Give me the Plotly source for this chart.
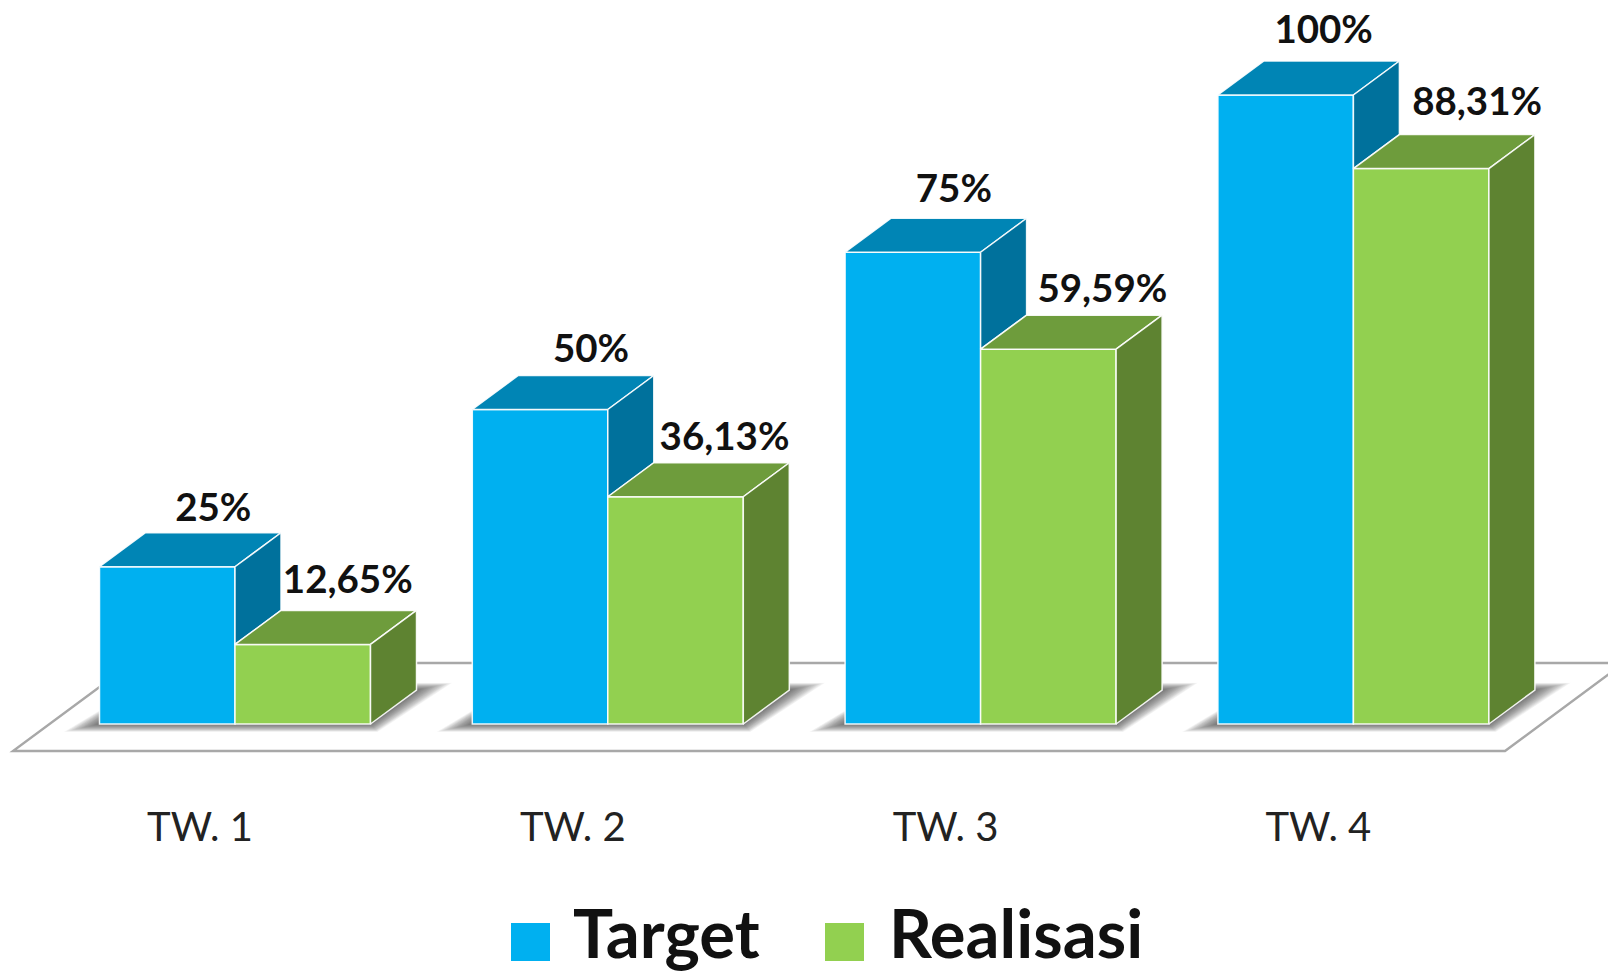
import plotly.graph_objects as go

categories = ["TW. 1", "TW. 2", "TW. 3", "TW. 4"]
target = [25, 50, 75, 100]
realisasi = [12.65, 36.13, 59.59, 88.31]
target_labels = ["25%", "50%", "75%", "100%"]
realisasi_labels = ["12,65%", "36,13%", "59,59%", "88,31%"]

target_nudge = [(0, 2), (5, 4), (-5, 7), (-8, 8)]
realisasi_nudge = [(-1, 8), (3, 3), (8, 4), (10, 10)]

W, H = 1608, 974
X_PER_CAT = 372.8      # px per category
Y_PER_PCT = 6.29       # px per percent
X0_PX, Y0_PX = 235, 724
BAR_W = 135.5 / X_PER_CAT
DX = 46 / X_PER_CAT    # oblique depth
DY = 34 / Y_PER_PCT

C_T = ("#00B0F0", "#0085B5", "#00719C")
C_R = ("#92D050", "#6E9C3C", "#5E8331")
EDGE = "rgba(255,255,255,0.9)"
FONT = "Lato"


def path(pts):
    return "M " + " L ".join(f"{x:.4f},{y:.4f}" for x, y in pts) + " Z"


def px_x(p):
    return p / X_PER_CAT


def px_y(p):
    return p / Y_PER_PCT


fig = go.Figure()
shapes = []

# floor
fl, fr = (13 - X0_PX) / X_PER_CAT, (1505 - X0_PX) / X_PER_CAT
fy0, fy1 = -27 / Y_PER_PCT, 61 / Y_PER_PCT
fdx = 119 / X_PER_CAT
shapes.append(dict(type="path", xref="x", yref="y", layer="below",
                   path=path([(fl, fy0), (fr, fy0), (fr + fdx, fy1), (fl + fdx, fy1)]),
                   fillcolor="white", line=dict(color="#A8A8A8", width=2.4)))

# soft shadows below each pair of columns
for i in range(len(categories)):
    L, R = i - BAR_W, i + BAR_W
    for t in range(36, 0, -1):
        shapes.append(dict(type="path", xref="x", yref="y", layer="below",
                           path=path([(L - px_x(t), -px_y(0.22 * t)),
                                      (R + px_x(0.2 * t), -px_y(0.22 * t)),
                                      (R + DX + px_x(t), DY + px_y(0.2 * t)),
                                      (L + DX, DY + px_y(0.2 * t))]),
                           fillcolor="rgba(50,50,50,0.022)", line=dict(width=0)))

# front faces
fig.add_trace(go.Bar(x=[i - BAR_W / 2 for i in range(4)], y=target, width=BAR_W, name="Target",
                     marker=dict(color=C_T[0], line=dict(color=EDGE, width=1.5)), showlegend=False))
fig.add_trace(go.Bar(x=[i + BAR_W / 2 for i in range(4)], y=realisasi, width=BAR_W, name="Realisasi",
                     marker=dict(color=C_R[0], line=dict(color=EDGE, width=1.5)), showlegend=False))


def face(pts, color, name):
    fig.add_trace(go.Scatter(x=[p[0] for p in pts] + [pts[0][0]], y=[p[1] for p in pts] + [pts[0][1]],
                             mode="lines", fill="toself", fillcolor=color,
                             line=dict(color=EDGE, width=1.5), hoverinfo="skip",
                             showlegend=False, name=name))


for i in range(len(categories)):
    L, M, R = i - BAR_W, i, i + BAR_W
    t, r = target[i], realisasi[i]
    # target top and the part of its side that stays visible above the green column
    face([(L, t), (M, t), (M + DX, t + DY), (L + DX, t + DY)], C_T[1], "Target top")
    face([(M, t), (M + DX, t + DY), (M + DX, r + DY), (M, r)], C_T[2], "Target side")
    # realisasi top and side
    face([(M, r), (R, r), (R + DX, r + DY), (M + DX, r + DY)], C_R[1], "Realisasi top")
    face([(R, r), (R + DX, r + DY), (R + DX, DY), (R, 0)], C_R[2], "Realisasi side")

# data labels
lab_font = dict(family=FONT, size=38.5, color="#111111", weight="bold")
fig.add_trace(go.Scatter(x=[i - BAR_W / 2 + DX + px_x(target_nudge[i][0]) for i in range(4)],
                         y=[v + DY + px_y(target_nudge[i][1]) for i, v in enumerate(target)],
                         mode="text", text=target_labels, textposition="top center",
                         textfont=lab_font, showlegend=False, hoverinfo="skip", cliponaxis=False))
fig.add_trace(go.Scatter(x=[i + BAR_W / 2 + DX + px_x(realisasi_nudge[i][0]) for i in range(4)],
                         y=[v + DY + px_y(realisasi_nudge[i][1]) for i, v in enumerate(realisasi)],
                         mode="text", text=realisasi_labels, textposition="top center",
                         textfont=lab_font, showlegend=False, hoverinfo="skip", cliponaxis=False))

# legend (swatches larger than Plotly's own legend permits)
for x0, x1, col in [(511, 550, C_T[0]), (825, 864, C_R[0])]:
    shapes.append(dict(type="rect", xref="paper", yref="paper", x0=x0 / W, x1=x1 / W,
                       y0=1 - 961 / H, y1=1 - 923 / H, fillcolor=col, line=dict(width=0)))
LEG_Y = 1 - 932 / H
annotations = [
    dict(text="Target", x=571 / W, y=LEG_Y, xref="paper", yref="paper", xanchor="left",
         yanchor="middle", showarrow=False, font=dict(family=FONT, size=67, color="#111111", weight="bold")),
    dict(text="Realisasi", x=887 / W, y=LEG_Y, xref="paper", yref="paper", xanchor="left",
         yanchor="middle", showarrow=False, font=dict(family=FONT, size=67, color="#111111", weight="bold")),
]

fig.update_layout(
    width=W, height=H, autosize=False,
    margin=dict(l=0, r=0, t=0, b=0, pad=0),
    paper_bgcolor="white", plot_bgcolor="white",
    barmode="overlay", showlegend=False, hovermode=False,
    shapes=shapes, annotations=annotations,
    xaxis=dict(range=[-X0_PX / X_PER_CAT, (W - X0_PX) / X_PER_CAT], anchor="free",
               position=1 - 800 / H, showgrid=False, zeroline=False, showline=False, ticks="",
               tickmode="array", tickvals=[i - 35 / X_PER_CAT for i in range(4)], ticktext=categories,
               tickfont=dict(family=FONT, size=40, color="#222222"), fixedrange=True),
    yaxis=dict(range=[-(H - Y0_PX) / Y_PER_PCT, Y0_PX / Y_PER_PCT], domain=[0, 1], visible=False,
               fixedrange=True),
)

fig.write_html("out.html", config=dict(displayModeBar=False),
               post_script="document.body.style.margin='0';document.documentElement.style.overflow='hidden';")
